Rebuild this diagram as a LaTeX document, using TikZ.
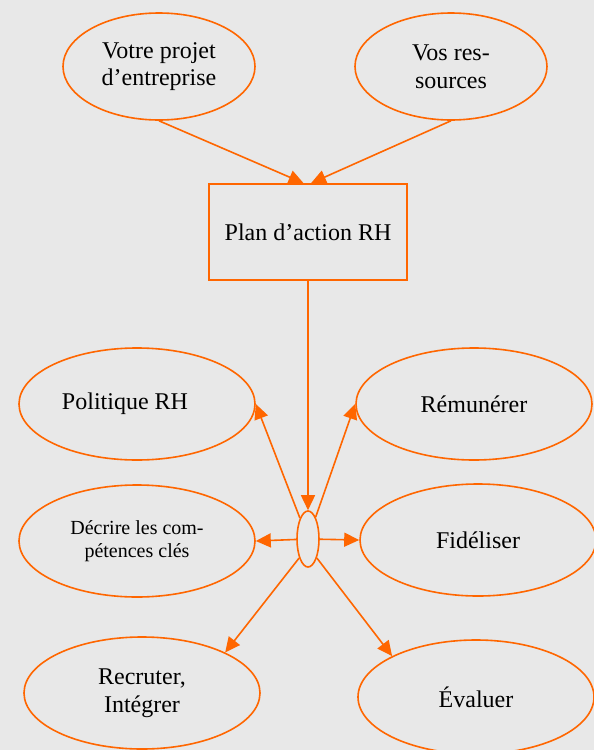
\documentclass[tikz,border=0pt]{standalone}
\usepackage{fontspec}
\setmainfont{Liberation Serif}
\usetikzlibrary{shapes.geometric,arrows.meta}
\definecolor{bg}{HTML}{E8E8E8}
\definecolor{org}{HTML}{FF6600}
\begin{document}
\begin{tikzpicture}[x=0.5pt,y=-0.5pt,
  oval/.style={ellipse,draw=org,line width=0.8pt,inner sep=0pt,align=center,
    font=\fontsize{12}{13.8}\selectfont,text=black},
  topoval/.style={oval,minimum width=96pt,minimum height=53.5pt},
  lowoval/.style={oval,minimum width=118pt,minimum height=56pt},
  boxnode/.style={rectangle,draw=org,line width=0.8pt,inner sep=0pt,
    minimum width=99pt,minimum height=48pt,font=\fontsize{12}{13.8}\selectfont},
  hubnode/.style={ellipse,draw=org,line width=0.8pt,inner sep=0pt,
    minimum width=11pt,minimum height=28pt},
  conn/.style={draw=org,line width=0.8pt,-{Triangle[length=7.5pt,width=7pt]}}]
\fill[bg] (0,0) rectangle (594,750);
\useasboundingbox (0,0) rectangle (594,750);

\node[topoval] (proj) at (159,66.5) {Votre projet\\d’entreprise};
\node[topoval] (res) at (451,66.5) {Vos res-\\sources};
\node[boxnode] (plan) at (308,232) {Plan d’action RH};
\node[hubnode] (hub) at (308,539) {};

\node[lowoval] (pol) at (137,404) {Politique RH\hspace{12pt}};
\node[lowoval] (rem) at (474,404) {Rémunérer};
\node[lowoval,font=\fontsize{10}{11.5}\selectfont] (dec) at (137,541) {Décrire les com-\\pétences clés};
\node[lowoval] (fid) at (478,540) {Fidéliser};
\node[lowoval] (rec) at (142,693) {Recruter,\\Intégrer};
\node[lowoval,minimum height=57pt] (eva) at (476,697) {Évaluer};

\draw[conn] (proj.south) -- ([xshift=-2.2pt]plan.north);
\draw[conn] (res.south) -- ([xshift=1.5pt]plan.north);
\draw[conn] (plan.south) -- (hub.north);
\draw[conn] (hub) -- (pol.east);
\draw[conn] (hub) -- (rem.west);
\draw[conn] (hub) -- (dec.east);
\draw[conn] (hub) -- (fid.west);
\draw[conn] (hub.245) -- (rec.26);
\draw[conn] (hub.295) -- (eva.154);
\end{tikzpicture}
\end{document}
